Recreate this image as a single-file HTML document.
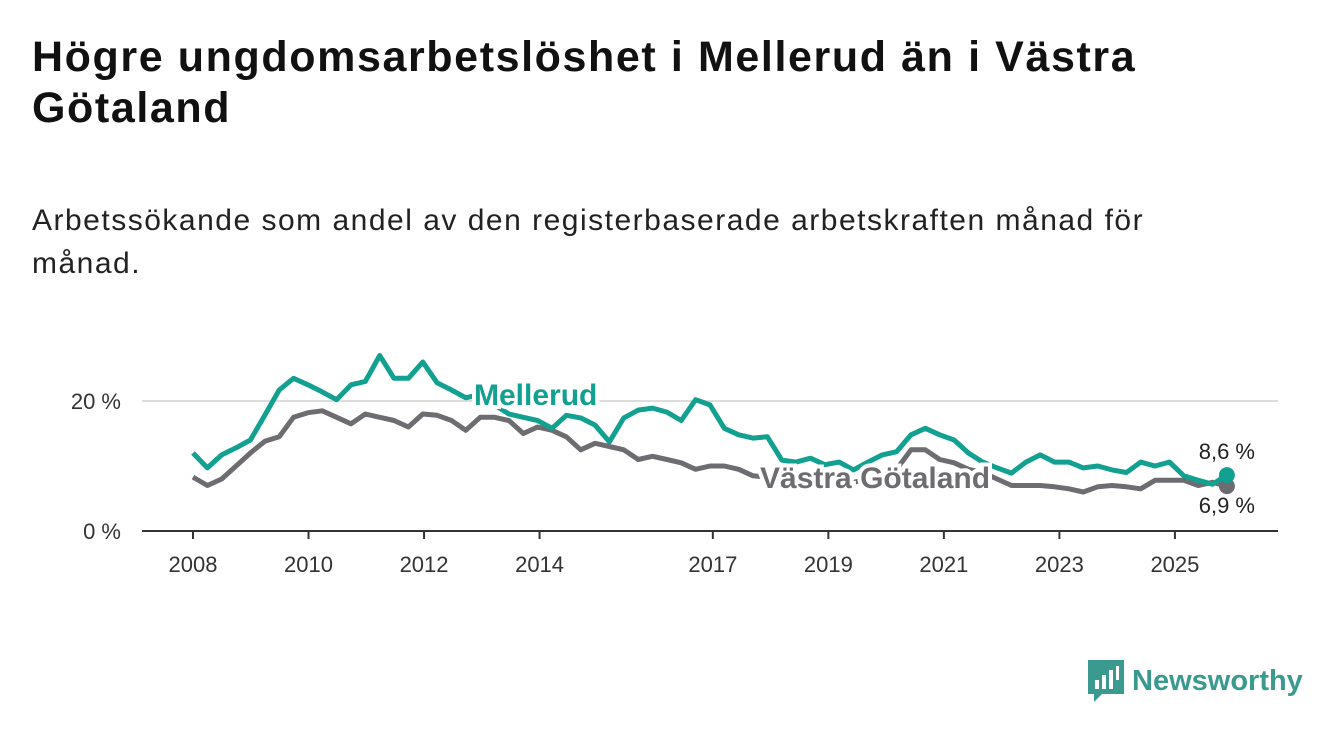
<!DOCTYPE html>
<html><head><meta charset="utf-8">
<style>
body{margin:0;width:1340px;height:734px;background:#fff;font-family:"Liberation Sans",sans-serif;overflow:hidden;position:relative}
h1{position:absolute;left:32px;top:32px;margin:0;font-size:43px;line-height:51px;font-weight:bold;color:#111;width:1200px;letter-spacing:1.6px}
.sub{position:absolute;left:32px;top:199px;font-size:30px;line-height:43px;color:#222;width:1200px;letter-spacing:1.5px}
svg{position:absolute;left:0;top:0}
.logo{position:absolute;left:1088px;top:660px;display:flex;align-items:center;gap:8px;color:#3a9a8f;font-size:29px;font-weight:bold}
</style></head><body>
<h1>Högre ungdomsarbetslöshet i Mellerud än i Västra Götaland</h1>
<div class="sub">Arbetssökande som andel av den registerbaserade arbetskraften månad för månad.</div>
<svg id="chart" width="1340" height="734"></svg>
<div class="logo">
<svg width="36" height="42" style="position:static" viewBox="0 0 36 42"><path d="M0 0H36V34H14L6 42V34H0Z" fill="#3a9a8f"/><rect x="7" y="20" width="4" height="9" fill="#fff"/><rect x="14" y="15" width="4" height="14" fill="#fff"/><rect x="21" y="10" width="4" height="19" fill="#fff"/><rect x="28" y="6" width="3" height="14" fill="#fff"/></svg>
<span>Newsworthy</span></div>
<script>
const mellerud=[12,9.7,11.7,12.8,14,17.8,21.7,23.5,22.5,21.4,20.2,22.5,23,27,23.5,23.5,26,22.8,21.7,20.5,21,19.4,18,17.5,17,15.8,17.8,17.4,16.3,13.7,17.4,18.6,18.9,18.3,17,20.2,19.4,15.8,14.8,14.3,14.5,10.9,10.6,11.2,10.2,10.6,9.4,10.6,11.7,12.2,14.8,15.8,14.8,14,12,10.6,9.7,8.9,10.6,11.7,10.6,10.6,9.7,10,9.4,9,10.6,10,10.6,8.5,7.8,7.2,8.6];
const vastra=[8.3,7,8,10,12,13.8,14.5,17.5,18.2,18.5,17.5,16.5,18,17.5,17,16,18,17.8,17,15.5,17.5,17.5,17,15,16,15.5,14.5,12.5,13.5,13,12.5,11,11.5,11,10.5,9.5,10,10,9.5,8.5,8.3,8,7.8,7.8,7.5,7.5,7.5,8,8.5,9.5,12.5,12.5,11,10.5,9.5,9,8,7,7,7,6.8,6.5,6,6.8,7,6.8,6.5,7.8,7.8,7.8,7,7.5,6.9];
const startYear=2008, endYear=2025.9;
const xTicks=[2008,2010,2012,2014,2017,2019,2021,2023,2025];
const yTicks=[0,20];
const X=y=>193+(y-2008)*57.76;
const Y=v=>531-v*6.5;
const yr=i=>startYear+i*(endYear-startYear)/(mellerud.length-1);
const svg=document.getElementById('chart');
const NS='http://www.w3.org/2000/svg';
function mk(t,a){const e=document.createElementNS(NS,t);for(const k in a)e.setAttribute(k,a[k]);svg.appendChild(e);return e;}
yTicks.forEach(v=>{
 if(v>0){const g=mk('line',{x1:142,x2:1278,y1:Y(v),y2:Y(v),stroke:'#ddd','stroke-width':2});
 
 }
 const t=mk('text',{x:121,y:Y(v)+8,'text-anchor':'end','font-size':22,fill:'#333'});t.textContent=v+' %';
 
 
});
const ax=mk('line',{x1:142,x2:1278,y1:531,y2:531,stroke:'#333','stroke-width':2});


xTicks.forEach(v=>{
 const l=mk('line',{x1:X(v),x2:X(v),y1:531,y2:539,stroke:'#333','stroke-width':2});
 
 
 const t=mk('text',{x:X(v),y:572,'text-anchor':'middle','font-size':22,fill:'#333'});t.textContent=v;
 
 
});
function line(arr,col,name){
 const d=arr.map((v,i)=>(i?'L':'M')+X(yr(i)).toFixed(1)+' '+Y(v).toFixed(1)).join(' ');
 const p=mk('path',{d,fill:'none',stroke:col,'stroke-width':5,'stroke-linejoin':'round'});
 
 
 const n=arr.length-1;
 const c=mk('circle',{cx:X(yr(n)),cy:Y(arr[n]),r:8,fill:col});
 
 
}
line(vastra,'#6d6c70','vastra-gotaland-line');
line(mellerud,'#12a090','mellerud-line');
function lab(txt,x,y,col,name,size,bold,anchor){
 const t=mk('text',{x,y,fill:col,'font-size':size,'font-weight':bold?'bold':'normal','text-anchor':anchor||'start',stroke:'#fff','stroke-width':bold?8:0,'paint-order':'stroke'});
 t.textContent=txt;
 
 
}
lab('Mellerud',474,405,'#12a090','mellerud-label',30,true);
lab('Västra Götaland',760,488,'#6d6c70','vastra-gotaland-label',30,true);
const n=mellerud.length-1;
lab(String(mellerud[n]).replace('.',',')+' %',1255,459,'#222','mellerud-end-value',22,false,'end');
lab(String(vastra[n]).replace('.',',')+' %',1255,513,'#222','vastra-end-value',22,false,'end');
</script>
</body></html>
